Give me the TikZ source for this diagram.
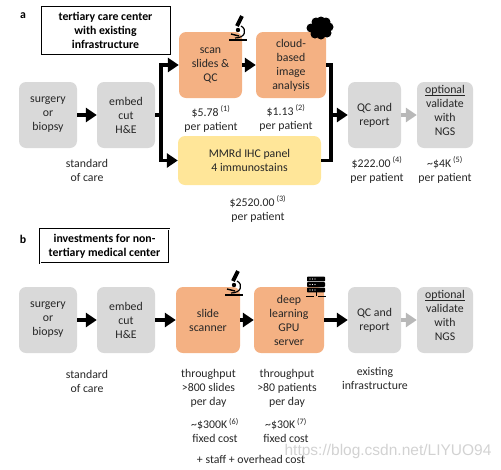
\documentclass[tikz,border=0pt]{standalone}
\usepackage{fontspec}
\setmainfont{Carlito}
\usetikzlibrary{arrows.meta, positioning}
\definecolor{greybox}{HTML}{D9D9D9}
\definecolor{orangebox}{HTML}{F4B183}
\definecolor{yellowbox}{HTML}{FFE699}
\definecolor{txt}{HTML}{262626}
\newcommand{\refnum}[1]{\,\textsuperscript{(#1)}}
\begin{document}
\begin{tikzpicture}[
x=1pt, y=-1pt,
every node/.style={font=\fontsize{11.8}{14}\selectfont, text=txt},
box/.style={rectangle, rounded corners=7pt, align=center, inner sep=0pt},
grey/.style={box, fill=greybox, minimum height=66pt},
orange/.style={box, fill=orangebox, minimum height=66pt},
title/.style={rectangle, draw=black, thick, align=center, inner sep=0pt, font=\fontsize{11.8}{14}\selectfont\bfseries, text=black},
note/.style={align=center, inner sep=0pt},
line/.style={-{Triangle[length=11pt,width=14pt]}, line width=3.8pt, draw=black},
greyline/.style={-{Triangle[length=11pt,width=14pt]}, line width=3.8pt, draw=greybox!85!black},
branch/.style={line width=3.8pt, draw=black},
microscope/.pic={
  \draw[line width=1.6pt] (-9,11) -- (9,11);
  \draw[line width=1.2pt] (3,-3) .. controls (9,0) and (8,9) .. (-3,9);
  \draw[line width=4pt] (4,-13) -- (-1,-3);
  \draw[line width=1.4pt] (-7,5) -- (1,7);
  \fill (0,1) circle (2.2pt);
},
server/.pic={
  \foreach \yy in {-11,-5.5,0} {
    \fill[rounded corners=0.8pt] (-9,\yy-2.4) rectangle (9,\yy+2.4);
    \foreach \xx in {-6,-3.5,-1} \fill[white] (\xx,\yy) circle (0.6pt);
  }
  \draw[line width=1pt] (0,2) -- (0,6);
  \draw[line width=1pt] (-10,6) -- (-2,6) (2,6) -- (10,6);
}
]
\useasboundingbox (0,0) rectangle (501,469);

% panel a
\node[note, font=\fontsize{11.8}{14}\selectfont\bfseries, text=black] (la) at (23,16) {a};
\node[title, minimum width=129pt, minimum height=48pt] (ta) at (105.5,30) {tertiary care center\\with existing\\infrastructure};
\node[grey, minimum width=58pt] (surg) at (48,115) {surgery\\or\\biopsy};
\node[grey, minimum width=58pt] (embed) at (126,115) {embed\\cut\\H\&E};
\node[orange, minimum width=63pt] (scan) at (210.5,65) {scan\\slides \&\\QC};
\node[orange, minimum width=70pt] (cloud) at (291,65) {cloud-\\based\\image\\analysis};
\node[box, fill=yellowbox, minimum width=143pt, minimum height=49pt] (ihc) at (249.5,160.5) {MMRd IHC panel\\4 immunostains};
\node[grey, minimum width=53pt] (qc) at (374.5,115) {QC and\\report};
\node[grey, minimum width=56pt] (ngs) at (445,115) {\underline{\smash{optional}}\\validate\\with\\NGS};

\node[note] (cost1) at (211,119) {\$5.78\refnum{1}\\per patient};
\node[note] (cost2) at (286,118) {\$1.13\refnum{2}\\per patient};
\node[note] (cost3) at (258,209) {\$2520.00\refnum{3}\\per patient};
\node[note] (cost4) at (377,170) {\$222.00\refnum{4}\\per patient};
\node[note] (cost5) at (445,170) {\textasciitilde\$4K\refnum{5}\\per patient};
\node[note] (soca) at (87,170) {standard\\of care};

\coordinate (forka) at (161,115);
\coordinate (joina) at (331,115);
\draw[line] (surg) -- (embed);
\draw[branch] (embed) -- (forka);
\draw[line] (forka) |- (scan);
\draw[line] (forka) |- (ihc.west);
\draw[line] (scan) -- (cloud);
\draw[branch] (cloud.east) -| (joina);
\draw[branch] (ihc.east) -| (joina);
\draw[line] (joina) -- (qc);
\draw[greyline] (qc) -- (ngs);

\pic at (238,29) {microscope};
\foreach \cx/\cy in {316/22, 321/21, 326/22, 329/27, 327/33, 321/35, 315/34, 311/28} \fill (\cx,\cy) circle (4.5pt);
\fill (320,28) circle (8pt);

% panel b
\node[note, font=\fontsize{11.8}{14}\selectfont\bfseries, text=black] (lb) at (23,239) {b};
\node[title, double, double distance=1pt, minimum width=129pt, minimum height=34pt] (tb) at (104.5,246) {investments for non-\\tertiary medical center};
\node[grey, minimum width=58pt] (surgb) at (48,320) {surgery\\or\\biopsy};
\node[grey, minimum width=58pt] (embedb) at (126,320) {embed\\cut\\H\&E};
\node[orange, minimum width=64pt] (slide) at (208,320) {slide\\scanner};
\node[orange, minimum width=70pt] (gpu) at (289,320) {deep\\learning\\GPU\\server};
\node[grey, minimum width=53pt] (qcb) at (374.5,320) {QC and\\report};
\node[grey, minimum width=56pt] (ngsb) at (445,320) {\underline{\smash{optional}}\\validate\\with\\NGS};

\node[note] (socb) at (87,381) {standard\\of care};
\node[note] (thru1) at (208.5,388) {throughput\\>800 slides\\per day};
\node[note] (thru2) at (287,388) {throughput\\>80 patients\\per day};
\node[note] (exist) at (375,378) {existing\\infrastructure};
\node[note] (fix1) at (215,430.5) {\textasciitilde\$300K\refnum{6}\\fixed cost};
\node[note] (fix2) at (286,430.5) {\textasciitilde\$30K\refnum{7}\\fixed cost};
\node[note] (staff) at (251,459) {+ staff + overhead cost};

\draw[line] (surgb) -- (embedb);
\draw[line] (embedb) -- (slide);
\draw[line] (slide) -- (gpu);
\draw[line] (gpu) -- (qcb);
\draw[greyline] (qcb) -- (ngsb);

\pic at (234,284) {microscope};
\pic at (316,290) {server};

\node[note, font=\fontsize{15.5}{16}\selectfont\fontspec{Liberation Sans}, text=black!22, opacity=0.8] (mark) at (388,451) {https://blog.csdn.net/LIYUO94};
\end{tikzpicture}
\end{document}
